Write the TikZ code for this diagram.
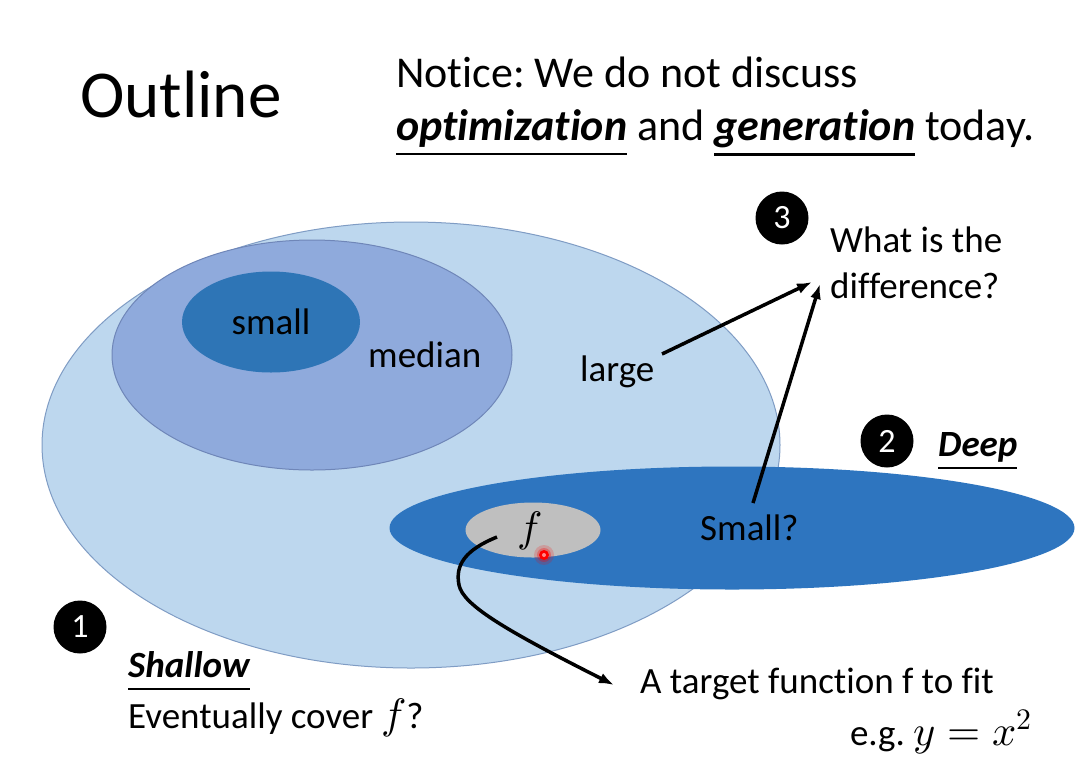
\documentclass[tikz,border=0pt]{standalone}
\usepackage{fontspec}
\usepackage{unicode-math}
\setmainfont{Carlito}[Ligatures=NoCommon]
\setmathfont{Latin Modern Math}[Scale=1.15]
\usetikzlibrary{shapes.geometric,arrows.meta}

\definecolor{shallowfill}{HTML}{BDD7EE}
\definecolor{shallowedge}{HTML}{7F9CC4}
\definecolor{medianfill}{HTML}{8FAADC}
\definecolor{medianedge}{HTML}{6F86B8}
\definecolor{smallfill}{HTML}{2E75B6}
\definecolor{deepfill}{HTML}{2E75BF}
\definecolor{targetfill}{HTML}{BFBFBF}

\newcommand\ulword[1]{\underline{\vphantom{p}#1}}
\frenchspacing

\tikzset{
  region/.style={ellipse, inner sep=0pt},
  txt/.style={font=\fontsize{37}{44}\selectfont, inner sep=0pt, text=black},
  headtxt/.style={font=\fontsize{44}{50}\selectfont, inner sep=0pt, text=black},
  numbadge/.style={circle, fill=black, text=white, minimum size=53pt, inner sep=0pt,
    font=\fontsize{34}{36}\selectfont},
  conn/.style={line width=3.5pt, -{Latex[length=15pt,width=11pt]}},
}

\begin{document}
\begin{tikzpicture}[x=1pt,y=-1pt]
\useasboundingbox (0,0) rectangle (1091,756);
\fill[white] (0,0) rectangle (1091,756);

% nested model regions
\node[region, fill=shallowfill, draw=shallowedge, line width=1pt,
  minimum width=738pt, minimum height=446pt] (shallow) at (411,445) {};
\node[region, fill=medianfill, draw=medianedge, line width=1pt,
  minimum width=400pt, minimum height=230pt] (median) at (312,355) {};
\node[region, fill=smallfill, minimum width=178pt, minimum height=101pt] (small) at (271,322) {};
\node[region, fill=deepfill, minimum width=685pt, minimum height=123pt] (deep) at (732,528) {};
\node[region, fill=targetfill, minimum width=135pt, minimum height=55pt] (target) at (533,530) {};

% region labels
\node[txt, anchor=base] (smallLbl) at (271,334) {small};
\node[txt, anchor=base west] (medianLbl) at (368,367) {median};
\node[txt, anchor=base west] (largeLbl) at (580,381) {large};
\node[txt, anchor=base west] (smallQ) at (700,540) {Small?};
\node[txt, anchor=base] (fLbl) at (530,541) {$f$};

% red pointer dot
\fill[red, opacity=0.18] (544,555) circle (10);
\fill[red, opacity=0.3] (544,555) circle (7);
\fill[red] (544,555) circle (5);
\fill[white!55!red] (544,555) circle (2);

% title and notice
\node[inner sep=0pt, anchor=base west, font=\fontsize{67}{72}\selectfont] (title) at (80,117) {Outline};
\node[headtxt, anchor=base west] (notice1) at (396,87) {Notice: We do not discuss};
\node[headtxt, anchor=base west] (notice2) at (396,140)
  {\ulword{\textbf{\textit{optimization}}} and \ulword{\textbf{\textit{generation}}} today.};

% numbered badges
\node[numbadge] (n1) at (80,627) {1};
\node[numbadge] (n2) at (887,441) {2};
\node[numbadge] (n3) at (782,218) {3};

% side texts
\node[txt, anchor=base west] (q1) at (830,252) {What is the};
\node[txt, anchor=base west] (q2) at (830,298) {difference?};
\node[txt, anchor=base west] (deepLbl) at (938,456) {\ulword{\textbf{\textit{Deep}}}};
\node[txt, anchor=base west] (shallowLbl) at (128,677) {\ulword{\textbf{\textit{Shallow}}}};
\node[txt, anchor=base west] (cover) at (128,728) {Eventually cover $f$?};
\node[txt, anchor=base west] (goal) at (640,693) {A target function f to fit};
\node[txt, anchor=base east] (example) at (1032,745) {e.g. $y=x^2$};

% connector end points
\coordinate (largeTail) at (662,354);
\coordinate (diffTipA) at (812,282);
\coordinate (smallTail) at (753,503);
\coordinate (diffTipB) at (820,284);
\coordinate (fTail) at (497,537);
\coordinate (goalTip) at (614,685);

% connectors
\draw[conn] (largeTail) -- (diffTipA);
\draw[conn] (smallTail) -- (diffTipB);
\draw[conn] (fTail) .. controls (465,550) and (455,565) .. (459,585)
  .. controls (463,605) and (505,630) .. (goalTip);
\end{tikzpicture}
\end{document}
